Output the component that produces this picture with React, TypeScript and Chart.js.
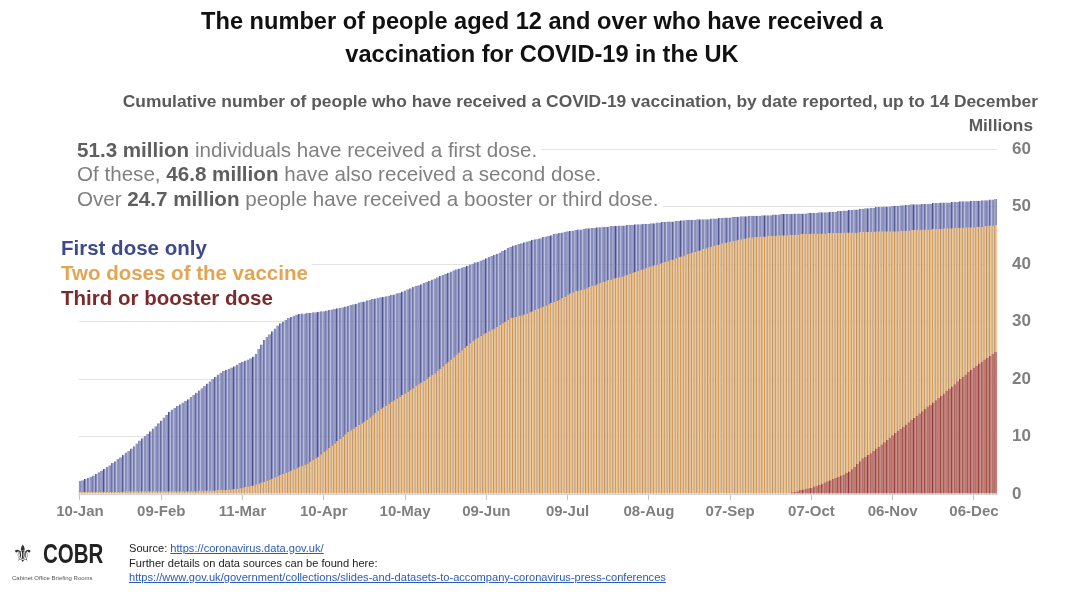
import React, { useEffect, useRef } from "react";
import { Chart, registerables } from "chart.js";

Chart.register(...registerables);

const FONT = "'Liberation Sans', Arial, Helvetica, sans-serif";

const titleLines = [
  "The number of people aged 12 and over who have received a",
  "vaccination for COVID-19 in the UK",
];
const subtitle =
  "Cumulative number of people who have received a COVID-19 vaccination, by date reported, up to 14 December";
const unitLabel = "Millions";
const seriesNames = ["First dose only", "Two doses of the vaccine", "Third or booster dose"];

// Daily categories start on 10 Jan 2021
const startYear = 2021;
const startMonth = 0;
const startDay = 10;
const monthNames = ["Jan", "Feb", "Mar", "Apr", "May", "Jun", "Jul", "Aug", "Sep", "Oct", "Nov", "Dec"];
const tickLabels = ["10-Jan", "09-Feb", "11-Mar", "10-Apr", "10-May", "09-Jun", "09-Jul", "08-Aug", "07-Sep", "07-Oct", "06-Nov", "06-Dec"];
const yTickValues = [0, 10, 20, 30, 40, 50, 60];

// Cumulative first doses (millions), one value per day
const firstDose = [
  2.3, 2.4, 2.6, 2.8, 3.0, 3.2, 3.5, 3.8, 4.1, 4.4,
  4.7, 5.0, 5.4, 5.7, 6.1, 6.4, 6.8, 7.2, 7.5, 7.9,
  8.3, 8.8, 9.3, 9.7, 10.1, 10.5, 10.9, 11.4, 11.8, 12.3,
  12.8, 13.3, 13.8, 14.3, 14.7, 15.0, 15.3, 15.6, 15.9, 16.2,
  16.5, 16.9, 17.2, 17.6, 18.0, 18.4, 18.8, 19.2, 19.6, 20.0,
  20.4, 20.8, 21.1, 21.4, 21.6, 21.8, 22.0, 22.2, 22.5, 22.8,
  23.0, 23.2, 23.4, 23.6, 23.9, 24.4, 25.2, 26.0, 26.8, 27.3,
  27.8, 28.3, 28.8, 29.3, 29.7, 30.0, 30.3, 30.6, 30.8, 31.0,
  31.2, 31.3, 31.4, 31.4, 31.5, 31.5, 31.6, 31.6, 31.7, 31.8,
  31.8, 31.9, 32.0, 32.1, 32.2, 32.3, 32.4, 32.5, 32.6, 32.7,
  32.9, 33.0, 33.1, 33.3, 33.4, 33.5, 33.7, 33.8, 33.9, 34.0,
  34.1, 34.2, 34.3, 34.4, 34.5, 34.6, 34.7, 34.9, 35.0, 35.2,
  35.4, 35.6, 35.8, 36.0, 36.2, 36.3, 36.5, 36.7, 36.9, 37.1,
  37.3, 37.5, 37.7, 37.9, 38.1, 38.3, 38.5, 38.7, 38.9, 39.1,
  39.2, 39.4, 39.5, 39.7, 39.9, 40.1, 40.3, 40.4, 40.6, 40.8,
  41.0, 41.2, 41.4, 41.6, 41.8, 42.0, 42.3, 42.5, 42.8, 43.0,
  43.2, 43.3, 43.5, 43.6, 43.8, 43.9, 44.0, 44.2, 44.3, 44.4,
  44.5, 44.7, 44.8, 44.9, 45.0, 45.2, 45.3, 45.4, 45.5, 45.6,
  45.7, 45.8, 45.8, 45.9, 46.0, 46.0, 46.1, 46.2, 46.2, 46.3,
  46.3, 46.4, 46.4, 46.5, 46.5, 46.5, 46.6, 46.6, 46.6, 46.7,
  46.7, 46.7, 46.8, 46.8, 46.8, 46.9, 46.9, 46.9, 47.0, 47.0,
  47.0, 47.1, 47.1, 47.2, 47.2, 47.3, 47.3, 47.4, 47.4, 47.4,
  47.5, 47.5, 47.6, 47.6, 47.7, 47.7, 47.7, 47.7, 47.8, 47.8,
  47.8, 47.8, 47.8, 47.9, 47.9, 47.9, 48.0, 48.0, 48.1, 48.1,
  48.1, 48.2, 48.2, 48.2, 48.3, 48.3, 48.3, 48.4, 48.4, 48.4,
  48.4, 48.4, 48.5, 48.5, 48.5, 48.5, 48.6, 48.6, 48.6, 48.7,
  48.7, 48.7, 48.7, 48.7, 48.8, 48.8, 48.8, 48.8, 48.8, 48.9,
  48.9, 48.9, 48.9, 49.0, 49.0, 49.0, 49.0, 49.1, 49.1, 49.1,
  49.2, 49.2, 49.3, 49.3, 49.4, 49.4, 49.5, 49.5, 49.6, 49.6,
  49.7, 49.7, 49.8, 49.8, 49.9, 49.9, 49.9, 50.0, 50.0, 50.0,
  50.1, 50.1, 50.1, 50.2, 50.2, 50.3, 50.3, 50.4, 50.4, 50.4,
  50.4, 50.5, 50.5, 50.5, 50.5, 50.6, 50.6, 50.6, 50.7, 50.7,
  50.7, 50.7, 50.8, 50.8, 50.8, 50.9, 50.9, 50.9, 50.9, 51.0,
  51.0, 51.0, 51.0, 51.1, 51.1, 51.1, 51.2, 51.2, 51.3,
];

// Cumulative second doses (millions)
const secondDose = [
  0.4, 0.4, 0.4, 0.4, 0.4, 0.4, 0.4, 0.4, 0.4, 0.4,
  0.4, 0.4, 0.4, 0.4, 0.4, 0.4, 0.4, 0.5, 0.5, 0.5,
  0.5, 0.5, 0.5, 0.5, 0.5, 0.5, 0.5, 0.5, 0.5, 0.5,
  0.5, 0.5, 0.5, 0.5, 0.5, 0.5, 0.5, 0.5, 0.5, 0.5,
  0.5, 0.5, 0.5, 0.5, 0.6, 0.6, 0.6, 0.6, 0.6, 0.6,
  0.6, 0.7, 0.7, 0.7, 0.7, 0.8, 0.8, 0.9, 0.9, 1.0,
  1.1, 1.2, 1.3, 1.4, 1.5, 1.7, 1.8, 2.0, 2.1, 2.3,
  2.5, 2.7, 2.9, 3.1, 3.3, 3.5, 3.7, 3.9, 4.1, 4.3,
  4.5, 4.7, 4.9, 5.1, 5.3, 5.6, 5.9, 6.2, 6.5, 6.9,
  7.3, 7.6, 8.0, 8.4, 8.8, 9.2, 9.6, 10.0, 10.4, 10.8,
  11.1, 11.4, 11.7, 12.0, 12.3, 12.6, 12.9, 13.3, 13.7, 14.1,
  14.5, 14.8, 15.1, 15.4, 15.7, 16.0, 16.3, 16.6, 16.9, 17.2,
  17.5, 17.8, 18.1, 18.4, 18.8, 19.1, 19.4, 19.7, 20.0, 20.4,
  20.7, 21.0, 21.4, 21.8, 22.2, 22.6, 23.0, 23.4, 23.8, 24.2,
  24.6, 25.0, 25.4, 25.8, 26.2, 26.6, 26.9, 27.2, 27.5, 27.8,
  28.0, 28.3, 28.6, 28.8, 29.1, 29.4, 29.7, 30.0, 30.3, 30.6,
  30.7, 30.8, 31.0, 31.1, 31.2, 31.4, 31.6, 31.8, 32.0, 32.2,
  32.4, 32.6, 32.8, 33.0, 33.2, 33.4, 33.6, 33.8, 34.1, 34.3,
  34.6, 34.9, 35.1, 35.3, 35.4, 35.5, 35.6, 35.8, 36.0, 36.2,
  36.3, 36.5, 36.7, 36.9, 37.0, 37.2, 37.3, 37.5, 37.6, 37.7,
  37.8, 38.0, 38.1, 38.3, 38.5, 38.6, 38.8, 39.0, 39.1, 39.3,
  39.5, 39.6, 39.8, 39.9, 40.1, 40.2, 40.4, 40.5, 40.7, 40.8,
  41.0, 41.2, 41.3, 41.5, 41.7, 41.8, 42.0, 42.1, 42.3, 42.4,
  42.6, 42.7, 42.9, 43.0, 43.2, 43.3, 43.4, 43.6, 43.7, 43.8,
  43.9, 44.0, 44.1, 44.2, 44.3, 44.4, 44.5, 44.6, 44.6, 44.7,
  44.7, 44.8, 44.8, 44.8, 44.9, 44.9, 44.9, 44.9, 45.0, 45.0,
  45.0, 45.0, 45.1, 45.1, 45.1, 45.1, 45.2, 45.2, 45.2, 45.2,
  45.3, 45.3, 45.3, 45.3, 45.3, 45.3, 45.4, 45.4, 45.4, 45.4,
  45.4, 45.4, 45.5, 45.5, 45.5, 45.5, 45.5, 45.5, 45.6, 45.6,
  45.6, 45.6, 45.6, 45.6, 45.7, 45.7, 45.7, 45.7, 45.7, 45.7,
  45.7, 45.7, 45.7, 45.8, 45.8, 45.8, 45.8, 45.9, 45.9, 45.9,
  45.9, 46.0, 46.0, 46.0, 46.0, 46.1, 46.1, 46.1, 46.1, 46.2,
  46.2, 46.2, 46.2, 46.3, 46.3, 46.3, 46.3, 46.4, 46.4, 46.4,
  46.4, 46.5, 46.5, 46.5, 46.6, 46.6, 46.7, 46.7, 46.8,
];

// Cumulative third / booster doses (millions)
const boosterDose = [
  0, 0, 0, 0, 0, 0, 0, 0, 0, 0,
  0, 0, 0, 0, 0, 0, 0, 0, 0, 0,
  0, 0, 0, 0, 0, 0, 0, 0, 0, 0,
  0, 0, 0, 0, 0, 0, 0, 0, 0, 0,
  0, 0, 0, 0, 0, 0, 0, 0, 0, 0,
  0, 0, 0, 0, 0, 0, 0, 0, 0, 0,
  0, 0, 0, 0, 0, 0, 0, 0, 0, 0,
  0, 0, 0, 0, 0, 0, 0, 0, 0, 0,
  0, 0, 0, 0, 0, 0, 0, 0, 0, 0,
  0, 0, 0, 0, 0, 0, 0, 0, 0, 0,
  0, 0, 0, 0, 0, 0, 0, 0, 0, 0,
  0, 0, 0, 0, 0, 0, 0, 0, 0, 0,
  0, 0, 0, 0, 0, 0, 0, 0, 0, 0,
  0, 0, 0, 0, 0, 0, 0, 0, 0, 0,
  0, 0, 0, 0, 0, 0, 0, 0, 0, 0,
  0, 0, 0, 0, 0, 0, 0, 0, 0, 0,
  0, 0, 0, 0, 0, 0, 0, 0, 0, 0,
  0, 0, 0, 0, 0, 0, 0, 0, 0, 0,
  0, 0, 0, 0, 0, 0, 0, 0, 0, 0,
  0, 0, 0, 0, 0, 0, 0, 0, 0, 0,
  0, 0, 0, 0, 0, 0, 0, 0, 0, 0,
  0, 0, 0, 0, 0, 0, 0, 0, 0, 0,
  0, 0, 0, 0, 0, 0, 0, 0, 0, 0,
  0, 0, 0, 0, 0, 0, 0, 0, 0, 0,
  0, 0, 0, 0, 0, 0, 0, 0, 0, 0,
  0, 0, 0, 0, 0, 0, 0, 0, 0, 0,
  0, 0, 0.1, 0.3, 0.4, 0.5, 0.7, 0.8, 0.9, 1.0,
  1.1, 1.3, 1.4, 1.6, 1.8, 2.0, 2.2, 2.4, 2.6, 2.8,
  3.0, 3.2, 3.4, 3.7, 3.9, 4.3, 4.7, 5.2, 5.7, 6.2,
  6.5, 6.8, 7.1, 7.5, 7.9, 8.2, 8.6, 9.0, 9.4, 9.8,
  10.2, 10.6, 11.0, 11.3, 11.7, 12.1, 12.5, 12.9, 13.2, 13.6,
  14.0, 14.4, 14.8, 15.2, 15.5, 15.9, 16.3, 16.7, 17.1, 17.5,
  17.9, 18.3, 18.7, 19.1, 19.6, 20.0, 20.4, 20.8, 21.2, 21.6,
  21.9, 22.3, 22.7, 23.0, 23.4, 23.7, 24.0, 24.4, 24.7,
];

const summaryLines = [
  { pre: "", bold: "51.3 million", post: " individuals have received a first dose." },
  { pre: "Of these, ", bold: "46.8 million", post: " have also received a second dose." },
  { pre: "Over ", bold: "24.7 million", post: " people have received a booster or third dose." },
];

const dayLabels = firstDose.map((_, i) => {
  const d = new Date(Date.UTC(startYear, startMonth, startDay + i));
  const dd = String(d.getUTCDate()).padStart(2, "0");
  return `${dd}-${monthNames[d.getUTCMonth()]}`;
});

const seriesColors = [
  { fill: "#888ec1", line: "#4a518b", text: "#3f4a8a" },
  { fill: "#f0c992", line: "#df9a47", text: "#e3a552" },
  { fill: "#c07a79", line: "#963a3c", text: "#7b2b2b" },
];

export default function App() {
  const ref = useRef<HTMLCanvasElement>(null);

  useEffect(() => {
    if (!ref.current) return;
    Chart.defaults.font.family = FONT;
    const series = [firstDose, secondDose, boosterDose];
    const chart = new Chart(ref.current, {
      type: "bar",
      data: {
        labels: dayLabels,
        datasets: series.map((data, k) => ({
          label: seriesNames[k],
          data,
          order: 2 - k,
          backgroundColor: seriesColors[k].fill,
          borderColor: seriesColors[k].line,
          borderWidth: { left: 1, right: 0, top: 0, bottom: 0 },
          borderSkipped: "start",
        })),
      },
      options: {
        responsive: false,
        animation: false,
        events: [],
        layout: { padding: { left: 78.6, right: 0, top: 149, bottom: 67 } },
        plugins: { legend: { display: false }, tooltip: { enabled: false } },
        datasets: {
          bar: { grouped: false, barPercentage: 1, categoryPercentage: 1, inflateAmount: 0 },
        },
        scales: {
          x: {
            offset: true,
            grid: {
              display: true,
              drawOnChartArea: false,
              drawTicks: true,
              tickLength: 6,
              color: "#c4c4c4",
              offset: false,
            },
            border: { display: true, color: "#d4d4d4", width: 1 },
            ticks: {
              autoSkip: false,
              maxRotation: 0,
              minRotation: 0,
              padding: 3,
              color: "#7f7f7f",
              font: { size: 15, weight: "bold", family: FONT },
            },
            afterBuildTicks: (axis: any) => {
              axis.ticks = axis.ticks.filter((t: any) => tickLabels.includes(dayLabels[t.value]));
            },
            afterFit: (axis: any) => {
              axis.height = 40;
            },
          },
          y: {
            position: "right",
            min: 0,
            max: 60,
            afterBuildTicks: (axis: any) => {
              axis.ticks = yTickValues.map((v) => ({ value: v }));
            },
            grid: { color: "#e4e4e4", drawTicks: false, lineWidth: 1 },
            border: { display: false },
            ticks: {
              padding: 15,
              color: "#7f7f7f",
              font: { size: 17, weight: "bold", family: FONT },
            },
            afterFit: (axis: any) => {
              axis.width = 83;
            },
          },
        },
      },
    });
    return () => chart.destroy();
  }, []);

  return (
    <div
      style={{
        position: "absolute",
        left: 0,
        top: 0,
        width: 1080,
        height: 601,
        background: "#fff",
        overflow: "hidden",
        fontFamily: FONT,
      }}
    >
      <canvas ref={ref} width={1080} height={601} style={{ position: "absolute", left: 0, top: 0 }} />

      <div
        style={{
          position: "absolute",
          left: 0,
          top: 5,
          width: 1084,
          textAlign: "center",
          fontWeight: "bold",
          fontSize: 23.6,
          lineHeight: "33px",
          color: "#111",
        }}
      >
        {titleLines.map((l) => (
          <div key={l}>{l}</div>
        ))}
      </div>

      <div
        style={{
          position: "absolute",
          right: 42,
          top: 90,
          fontWeight: "bold",
          fontSize: 17.4,
          lineHeight: "22px",
          color: "#5a5a5a",
          whiteSpace: "nowrap",
        }}
      >
        {subtitle}
      </div>
      <div
        style={{
          position: "absolute",
          right: 47,
          top: 114,
          fontWeight: "bold",
          fontSize: 17.3,
          lineHeight: "22px",
          color: "#5a5a5a",
        }}
      >
        {unitLabel}
      </div>

      <div style={{ position: "absolute", left: 77, top: 137.5, fontSize: 20.6, lineHeight: "24.5px", color: "#808080" }}>
        {summaryLines.map((s, i) => (
          <div key={i}>
            <span style={{ display: "inline-block", background: "#fff", paddingRight: 4, whiteSpace: "nowrap" }}>
              {s.pre}
              <b style={{ color: "#5f5f5f" }}>{s.bold}</b>
              {s.post}
            </span>
          </div>
        ))}
      </div>

      <div style={{ position: "absolute", left: 61, top: 234.5, fontSize: 20.5, lineHeight: "25px", fontWeight: "bold" }}>
        {seriesNames.map((n, i) => (
          <div key={n}>
            <span style={{ display: "inline-block", background: "#fff", paddingRight: 4, color: seriesColors[i].text }}>
              {n}
            </span>
          </div>
        ))}
      </div>

      <div style={{ position: "absolute", left: 12, top: 541, width: 30, height: 26, fontFamily: "'DejaVu Sans', sans-serif", fontSize: 24, lineHeight: "26px", color: "#333" }}>
        ⚜
      </div>
      <div
        style={{
          position: "absolute",
          left: 43,
          top: 540,
          fontSize: 27,
          lineHeight: "28px",
          color: "#222",
          fontWeight: "bold",
          transform: "scaleX(0.76)",
          transformOrigin: "left top",
          whiteSpace: "nowrap",
        }}
      >
        COBR
      </div>
      <div style={{ position: "absolute", left: 12, top: 574, fontSize: 6, lineHeight: "8px", color: "#555", whiteSpace: "nowrap" }}>
        Cabinet Office Briefing Rooms
      </div>

      <div style={{ position: "absolute", left: 129, top: 541, fontSize: 11.1, lineHeight: "14.5px", color: "#222", whiteSpace: "nowrap" }}>
        <div>
          Source: <span style={{ color: "#2a5bb8", textDecoration: "underline" }}>https://coronavirus.data.gov.uk/</span>
        </div>
        <div>Further details on data sources can be found here:</div>
        <div style={{ color: "#2a5bb8", textDecoration: "underline" }}>
          https://www.gov.uk/government/collections/slides-and-datasets-to-accompany-coronavirus-press-conferences
        </div>
      </div>
    </div>
  );
}
